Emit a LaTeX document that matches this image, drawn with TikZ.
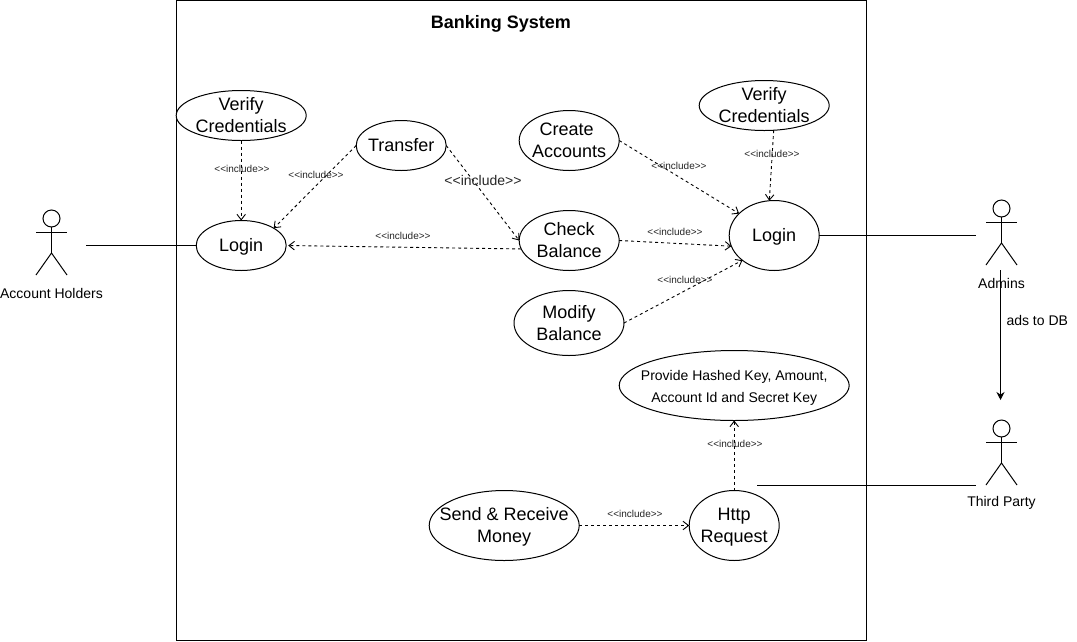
\documentclass[tikz,border=0pt]{standalone}
\usepackage{fontspec}
\setmainfont{Liberation Sans}
\usetikzlibrary{shapes.geometric,arrows.meta}
\newcommand{\ctext}[1]{\raisebox{\dimexpr-.25em-1.5pt\relax}[0pt][0pt]{\makebox[0pt]{\begin{tabular}{@{}c@{}}#1\end{tabular}}}}
\tikzset{
  usecase/.style={draw=black,fill=white,ellipse,inner sep=0pt,outer sep=0pt,line width=1pt,font=\fontsize{18}{22}\selectfont},
  smallcase/.style={usecase,font=\fontsize{14}{22}\selectfont},
  incl/.style={draw=black,dash pattern=on 3pt off 3pt,line width=.9pt,-{Straight Barb[length=5.5pt,width=8.5pt,line width=.9pt]}},
  assoc/.style={draw=black,line width=1pt},
  incltext/.style={inner sep=0pt,text=black!85,font=\fontsize{10}{12}\selectfont},
  bigincl/.style={inner sep=0pt,text=black!85,font=\fontsize{14}{16}\selectfont},
  actorname/.style={inner sep=0pt,font=\fontsize{14}{16}\selectfont},
  actorfig/.pic={
    \draw[line width=1pt] (0,8.5) circle (8.5);
    \draw[line width=1pt] (0,17) -- (0,43);
    \draw[line width=1pt] (-15.5,22) -- (15.5,22);
    \draw[line width=1pt] (-15.5,65) -- (0,43) -- (15.5,65);
  }
}
\begin{document}
\begin{tikzpicture}[x=1pt,y=-1pt]
\useasboundingbox (0,0) rectangle (1077,641);
\fill[white] (0,0) rectangle (1077,641);
\draw[line width=1pt] (176.5,0.5) rectangle (866.5,640.5);
\node[inner sep=0pt,font=\bfseries\fontsize{18}{22}\selectfont] (title) at (500.8,23.5) {Banking System};

\node[usecase,minimum width=130pt,minimum height=50pt] (verL) at (241.2,115.5) {\ctext{Verify\\Credentials}};
\node[usecase,minimum width=90pt,minimum height=50pt] (transfer) at (401.2,145.5) {\ctext{Transfer}};
\node[usecase,minimum width=90pt,minimum height=50pt] (loginL) at (241.2,245.5) {\ctext{Login}};
\node[usecase,minimum width=100pt,minimum height=60pt] (create) at (569.2,140.5) {\ctext{Create\kern5pt\\Accounts}};
\node[usecase,minimum width=130pt,minimum height=50pt] (verR) at (764.2,105.5) {\ctext{Verify\\Credentials}};
\node[usecase,minimum width=100pt,minimum height=60pt] (check) at (569.2,240.5) {\ctext{Check\\Balance}};
\node[usecase,minimum width=90pt,minimum height=70pt] (loginR) at (774.2,235.5) {\ctext{Login}};
\node[usecase,minimum width=110pt,minimum height=65pt] (modify) at (569,323) {\ctext{Modify\\Balance}};
\node[smallcase,minimum width=230pt,minimum height=70pt] (provide) at (734.2,385.5) {\ctext{Provide Hashed Key, Amount,\\Account Id and Secret Key}};
\node[usecase,minimum width=150pt,minimum height=70pt] (send) at (504.2,525.5) {\ctext{Send \& Receive\\Money}};
\node[usecase,minimum width=90pt,minimum height=70pt] (http) at (734.2,525.5) {\ctext{Http\\Request}};

\pic at (51.5,210) {actorfig};
\pic at (1001.5,200) {actorfig};
\pic at (1001.5,420) {actorfig};
\node[actorname] (holders) at (51.5,293) {Account Holders};
\node[actorname] (admins) at (1001.5,283) {Admins};
\node[actorname] (third) at (1001.5,503) {Third Party};

\coordinate (holderEnd) at (86,245.5);
\coordinate (adminEnd) at (976,235.5);
\coordinate (thirdEnd) at (976,485.5);
\coordinate (httpEnd) at (757,485.5);
\coordinate (dbStart) at (1000.5,270);
\coordinate (dbEnd) at (1000.5,400);

\draw[assoc] (holderEnd) -- (holderEnd -| loginL.west);
\draw[assoc] (loginR.east |- adminEnd) -- (adminEnd);
\draw[assoc] (httpEnd) -- (thirdEnd);
\draw[assoc,-{Stealth[length=8pt,width=8pt]}] (dbStart) -- node[pos=.385,right=5.5pt,inner sep=0pt,font=\fontsize{14}{16}\selectfont] (dblabel) {ads to DB} (dbEnd);

\draw[incl] (verL.south) -- (loginL.north);
\draw[incl] (transfer.west) -- (loginL.28);
\draw[incl] (transfer.east) -- (check.west);
\draw[incl,shorten >=2pt] (check.190) -- (loginL.east);
\draw[incl] (create.east) -- (loginR.148.6);
\draw[incl] (verR.-69) -- (loginR.98);
\draw[incl] (check.east) -- (loginR.194);
\draw[incl] (modify.east) -- (loginR.218.8);
\draw[incl] (send.east) -- (http.west);
\draw[incl] (http.north) -- (provide.south);

\node[incltext] (i1) at (242,168.5) {<{}<include>{}>};
\node[incltext] (i2) at (316,174.5) {<{}<include>{}>};
\node[incltext] (i3) at (403,235.5) {<{}<include>{}>};
\node[bigincl] (i4) at (483,180) {<{}<include>{}>};
\node[incltext] (i5) at (679,165.5) {<{}<include>{}>};
\node[incltext] (i6) at (772,153.5) {<{}<include>{}>};
\node[incltext] (i7) at (675,231.5) {<{}<include>{}>};
\node[incltext] (i8) at (685,279.5) {<{}<include>{}>};
\node[incltext] (i9) at (735,443.5) {<{}<include>{}>};
\node[incltext] (i10) at (635,513.5) {<{}<include>{}>};
\end{tikzpicture}
\end{document}
